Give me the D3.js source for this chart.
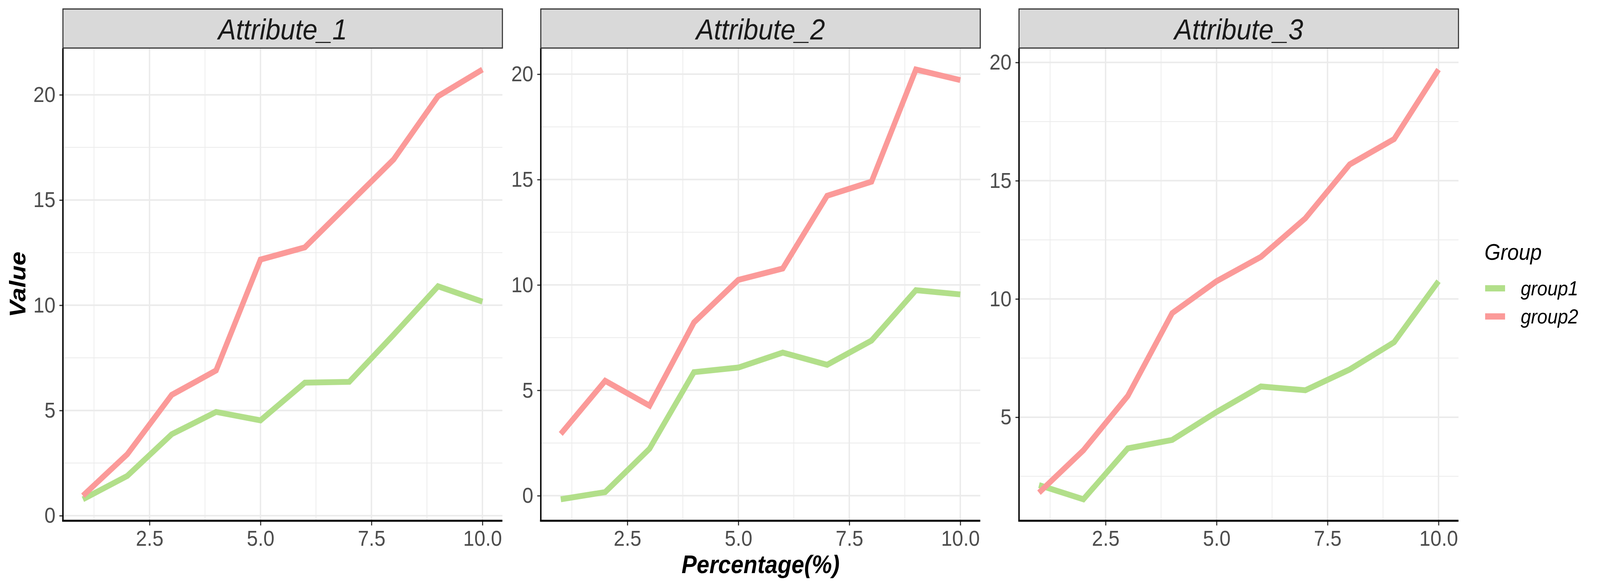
<!DOCTYPE html>
<html>
<head>
<meta charset="utf-8">
<script src="https://cdn.jsdelivr.net/npm/d3@7"></script>
<style>
  html, body { margin: 0; padding: 0; background: #fff; overflow: hidden; }
  #chart svg { display: block; width: 100vw; height: 100vh; }
  svg text { font-family: "Liberation Sans", Arial, sans-serif; }
</style>
</head>
<body>
<div id="chart"></div>
<script>
(function (d3) {
    'use strict';

    // data
    var xValues = [1, 2, 3, 4, 5, 6, 7, 8, 9, 10];
    var attributes = ["Attribute_1", "Attribute_2", "Attribute_3"];
    var groups = ["group1", "group2"];
    var group1Values = [
        [0.78, 1.89, 3.87, 4.93, 4.53, 6.32, 6.36, 8.6, 10.9, 10.17],
        [-0.17, 0.17, 2.23, 5.86, 6.08, 6.79, 6.21, 7.36, 9.75, 9.55],
        [2.13, 1.53, 3.68, 4.04, 5.22, 6.3, 6.14, 7.02, 8.17, 10.75]
    ];
    var group2Values = [
        [0.95, 2.92, 5.74, 6.9, 12.17, 12.75, 14.84, 16.93, 19.93, 21.2],
        [2.93, 5.45, 4.27, 8.22, 10.24, 10.78, 14.23, 14.9, 20.22, 19.72],
        [1.81, 3.6, 5.9, 9.4, 10.75, 11.78, 13.41, 15.69, 16.76, 19.7]
    ];
    var xTicks = [2.5, 5, 7.5, 10];
    var xMinor = [1.25, 3.75, 6.25, 8.75];
    var yTicks = [[0, 5, 10, 15, 20], [0, 5, 10, 15, 20], [5, 10, 15, 20]];
    var yMinor = [[2.5, 7.5, 12.5, 17.5], [2.5, 7.5, 12.5, 17.5], [2.5, 7.5, 12.5, 17.5]];
    var groupColors = ["#B2DF8A", "#FB9A99"];

    var width = 4500, height = 1500;
    var panelLefts = [177, 1521, 2866],
        panelW = 1236,
        stripTop = 23, plotTop = 123, plotBottom = 1333;

    var svg = d3.select("#chart").append("svg")
        .attr("viewBox", "0 0 " + width + " " + height)
        .attr("preserveAspectRatio", "none");

    svg.append("rect").attr("width", width).attr("height", height).attr("fill", "#fff");

    var expand = function (ext) {
        var pad = (ext[1] - ext[0]) * 0.05;
        return [ext[0] - pad, ext[1] + pad];
    };

    attributes.forEach(function (attr, i) {
        var left = panelLefts[i];
        var g = svg.append("g");
        var series = [group1Values[i], group2Values[i]];

        var x = d3.scaleLinear()
            .domain(expand(d3.extent(xValues)))
            .range([left, left + panelW]);
        var y = d3.scaleLinear()
            .domain(expand(d3.extent(series[0].concat(series[1]))))
            .range([plotBottom, plotTop]);

        // grid, minor first
        g.selectAll("line.ymin").data(yMinor[i].filter(function (v) {
            return v >= y.domain()[0] && v <= y.domain()[1];
        })).enter().append("line")
            .attr("x1", left).attr("x2", left + panelW)
            .attr("y1", y).attr("y2", y)
            .attr("stroke", "#EBEBEB").attr("stroke-width", 2);
        g.selectAll("line.xmin").data(xMinor).enter().append("line")
            .attr("x1", x).attr("x2", x)
            .attr("y1", plotTop).attr("y2", plotBottom)
            .attr("stroke", "#EBEBEB").attr("stroke-width", 2);
        g.selectAll("line.ymaj").data(yTicks[i]).enter().append("line")
            .attr("x1", left).attr("x2", left + panelW)
            .attr("y1", y).attr("y2", y)
            .attr("stroke", "#EBEBEB").attr("stroke-width", 4);
        g.selectAll("line.xmaj").data(xTicks).enter().append("line")
            .attr("x1", x).attr("x2", x)
            .attr("y1", plotTop).attr("y2", plotBottom)
            .attr("stroke", "#EBEBEB").attr("stroke-width", 4);

        // lines
        var line = d3.line()
            .x(function (d, j) { return x(xValues[j]); })
            .y(function (d) { return y(d); });
        g.selectAll("path.series").data(series).enter().append("path")
            .attr("d", line)
            .attr("fill", "none")
            .attr("stroke", function (d, k) { return groupColors[k]; })
            .attr("stroke-width", 15)
            .attr("stroke-linejoin", "miter")
            .attr("stroke-linecap", "butt");

        // axes
        var yAxis = g.append("g")
            .attr("transform", "translate(" + left + ",0)")
            .call(d3.axisLeft(y).tickValues(yTicks[i]).tickSize(10).tickPadding(11));
        var xAxis = g.append("g")
            .attr("transform", "translate(0," + plotBottom + ")")
            .call(d3.axisBottom(x).tickValues(xTicks).tickFormat(d3.format(".1f")).tickSize(12).tickPadding(12));
        [yAxis, xAxis].forEach(function (ax) {
            ax.select(".domain").remove();
            ax.selectAll(".tick line").attr("stroke", "#333").attr("stroke-width", 3);
            ax.selectAll(".tick text")
                .attr("fill", "#4D4D4D")
                .style("font-size", "56px");
        });

        g.append("line")
            .attr("x1", left).attr("x2", left)
            .attr("y1", plotTop).attr("y2", plotBottom + 2)
            .attr("stroke", "#000").attr("stroke-width", 4);
        g.append("line")
            .attr("x1", left - 2).attr("x2", left + panelW)
            .attr("y1", plotBottom).attr("y2", plotBottom)
            .attr("stroke", "#000").attr("stroke-width", 5);

        // strip
        g.append("rect")
            .attr("x", left).attr("y", stripTop)
            .attr("width", panelW).attr("height", plotTop - stripTop)
            .attr("fill", "#D9D9D9")
            .attr("stroke", "#333").attr("stroke-width", 3);
        g.append("text")
            .attr("x", left + panelW / 2).attr("y", 101)
            .attr("text-anchor", "middle")
            .attr("fill", "#1A1A1A")
            .style("font-size", "75px")
            .style("font-style", "italic")
            .text(attr);
    });

    // axis titles
    svg.append("text")
        .attr("x", panelLefts[1] + panelW / 2).attr("y", 1467)
        .attr("text-anchor", "middle")
        .style("font-size", "64px").style("font-weight", "bold").style("font-style", "italic")
        .text("Percentage(%)");
    svg.append("text")
        .attr("transform", "translate(71," + ((plotTop + plotBottom) / 2) + ") rotate(-90)")
        .attr("text-anchor", "middle")
        .style("font-size", "64px").style("font-weight", "bold").style("font-style", "italic")
        .text("Value");

    // legend
    var legend = svg.append("g").attr("transform", "translate(4175,0)");
    legend.append("text")
        .attr("x", 0).attr("y", 665)
        .style("font-size", "58px").style("font-style", "italic")
        .text("Group");
    var items = legend.selectAll("g.item").data(groups).enter().append("g")
        .attr("transform", function (d, k) { return "translate(0," + (738 + k * 72) + ")"; });
    items.append("line")
        .attr("x1", 2).attr("x2", 58).attr("y1", 0).attr("y2", 0)
        .attr("stroke", function (d, k) { return groupColors[k]; })
        .attr("stroke-width", 16);
    items.append("text")
        .attr("x", 102).attr("y", 0).attr("dy", "0.35em")
        .style("font-size", "52px").style("font-style", "italic")
        .text(function (d) { return d; });
})(d3);
</script>
</body>
</html>
